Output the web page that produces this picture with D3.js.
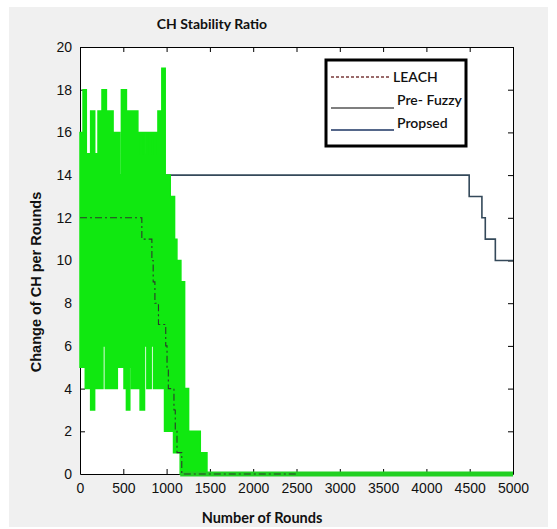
<!DOCTYPE html>
<html>
<head>
<meta charset="utf-8">
<script src="https://cdn.jsdelivr.net/npm/d3@7"></script>
<style>
    body { margin: 0; background: #fff; }
    .tick text { font-family: "Liberation Sans", Arial, sans-serif; font-size: 14px; fill: #111; }
    .tick line { stroke: #000; }
    .domain { stroke: #000; }
</style>
</head>
<body>
<svg id="chart" width="557" height="529"></svg>
<script>
// x positions where each step of a series starts, and its value from there on
var greenUpperX = [0, 35, 73, 123, 170, 208, 254, 305, 382, 459, 478, 536, 613, 668, 700, 712, 740, 752, 800, 812, 860, 872, 900, 945, 984, 1042, 1092, 1119, 1165, 1208, 1254, 1389, 1466];
var greenUpperY = [16, 18, 15, 17, 15, 17, 18, 17, 16, 14, 18, 17, 17, 16, 15, 16, 15, 16, 15, 16, 15, 16, 17, 19, 14, 13, 11, 10, 9, 4, 2, 1, 0];
var greenLowerX = [0, 61, 123, 169, 265, 292, 431, 508, 536, 575, 594, 694, 745, 772, 822, 849, 976, 1080, 1157];
var greenLowerY = [5, 4, 3, 4, 6, 4, 5, 4, 3, 5, 4, 3, 6, 4, 6, 4, 2, 1, 0];
var greenTail = [1157, 5000];

var leachX = [0, 714, 830, 845, 865, 906, 990, 1005, 1020, 1085, 1100, 1120, 1175, 2500];
var leachY = [12, 11, 10, 9, 8, 7, 6, 5, 4, 3, 2, 1, 0, 0];

var proposedX = [0, 4494, 4641, 4680, 4796, 5000];
var proposedY = [14, 13, 12, 11, 10, 10];

var xTicks = [0, 500, 1000, 1500, 2000, 2500, 3000, 3500, 4000, 4500, 5000];
var yTicks = [0, 2, 4, 6, 8, 10, 12, 14, 16, 18, 20];

var legendNames = ['LEACH', 'Pre- Fuzzy', 'Propsed'];

var titleText = 'CH Stability Ratio',
    xLabel = 'Number of Rounds',
    yLabel = 'Change of CH per Rounds';


var svg = d3.select('#chart'),
    margin = { left: 80, right: 44, top: 47, bottom: 55 },
    W = 557, H = 529,
    x = d3.scaleLinear().domain([0, 5000]).range([margin.left, W - margin.right]),
    y = d3.scaleLinear().domain([0, 20]).range([H - margin.bottom, margin.top]),
    narrow = 'Lato, "Open Sans", sans-serif',
    green = '#10e810';

// figure background
svg.append('rect')
    .attr('x', 9).attr('y', 7)
    .attr('width', 539).attr('height', 520)
    .attr('fill', '#f0f0f0');

svg.append('rect')
    .attr('x', x(0)).attr('y', y(20))
    .attr('width', x(5000) - x(0)).attr('height', y(0) - y(20))
    .attr('fill', '#fff');

// axes, MATLAB style ticks pointing inward on all sides
svg.append('g')
    .attr('transform', 'translate(0,' + y(0) + ')')
    .call(d3.axisBottom(x).tickValues(xTicks).tickFormat(d3.format('d'))
        .tickSizeInner(-5).tickSizeOuter(0).tickPadding(9));
svg.append('g')
    .attr('transform', 'translate(0,' + y(20) + ')')
    .call(d3.axisTop(x).tickValues(xTicks).tickSizeInner(-5).tickSizeOuter(0).tickFormat(''));
svg.append('g')
    .attr('transform', 'translate(' + x(0) + ',0)')
    .call(d3.axisLeft(y).tickValues(yTicks).tickSizeInner(-5).tickSizeOuter(0).tickPadding(8));
svg.append('g')
    .attr('transform', 'translate(' + x(5000) + ',0)')
    .call(d3.axisRight(y).tickValues(yTicks).tickSizeInner(-5).tickSizeOuter(0).tickFormat(''));

svg.selectAll('.tick').filter(function(d) { return d === 0; })
    .select('line').attr('opacity', 0);


// step lookup helper
function stepAt(xs, ys, v) {
    var i = d3.bisectRight(xs, v) - 1;
    return ys[Math.max(0, i)];
}

// proposed line (under the green band)
var stepLine = d3.line()
    .x(function(d) { return x(d[0]); })
    .y(function(d) { return y(d[1]); })
    .curve(d3.curveStepAfter);

svg.append('path')
    .datum(d3.zip(proposedX, proposedY))
    .attr('d', stepLine)
    .attr('fill', 'none')
    .attr('stroke', '#34495a')
    .attr('stroke-width', 1.6);

// green band: merge breakpoints of both envelopes
var bandX = d3.sort(Array.from(new Set(greenUpperX.concat(greenLowerX))), d3.ascending),
    band = bandX.map(function(v) {
        return { x: v, hi: stepAt(greenUpperX, greenUpperY, v), lo: stepAt(greenLowerX, greenLowerY, v) };
    });

svg.append('path')
    .datum(band)
    .attr('d', d3.area()
        .x(function(d) { return x(d.x); })
        .y0(function(d) { return y(d.lo); })
        .y1(function(d) { return y(d.hi); })
        .curve(d3.curveStepAfter))
    .attr('fill', green)
    .attr('stroke', green)
    .attr('stroke-width', 1.5);

svg.append('path')
    .datum(greenTail.map(function(v) { return [v, 0]; }))
    .attr('d', stepLine)
    .attr('fill', 'none')
    .attr('stroke', '#22d022')
    .attr('stroke-width', 5);

// LEACH dash-dot
svg.append('path')
    .datum(d3.zip(leachX, leachY))
    .attr('d', stepLine)
    .attr('fill', 'none')
    .attr('stroke', '#2b3a2b')
    .attr('stroke-width', 1.1)
    .attr('stroke-dasharray', '7,3,2,3');


// legend
var legend = svg.append('g').attr('transform', 'translate(326,60)');
legend.append('rect')
    .attr('width', 140).attr('height', 86)
    .attr('fill', '#fff')
    .attr('stroke', '#000')
    .attr('stroke-width', 3);

var legendLines = [
    { y1: 17, x2: 64, color: '#7a3a3a', dash: '3,2' },
    { y1: 48, x2: 68, color: '#555', dash: null },
    { y1: 70, x2: 68, color: '#1d3563', dash: null }
];
legend.selectAll('line.key').data(legendLines).enter().append('line')
    .attr('class', 'key')
    .attr('x1', 5).attr('x2', function(d) { return d.x2; })
    .attr('y1', function(d) { return d.y1; }).attr('y2', function(d) { return d.y1; })
    .attr('stroke', function(d) { return d.color; })
    .attr('stroke-width', 1.3)
    .attr('stroke-dasharray', function(d) { return d.dash; });

legend.selectAll('text').data(legendNames).enter().append('text')
    .attr('x', function(d, i) { return i === 0 ? 67 : 71; })
    .attr('y', function(d, i) { return [22, 45, 68][i]; })
    .attr('font-family', narrow)
    .attr('font-size', 14)
    .attr('font-weight', 600)
    .attr('fill', '#111')
    .text(function(d) { return d; });


// titles
svg.append('text')
    .attr('x', 212).attr('y', 29)
    .attr('text-anchor', 'middle')
    .attr('font-family', narrow)
    .attr('font-size', 14)
    .attr('font-weight', 'bold')
    .attr('fill', '#111')
    .text(titleText);

svg.append('text')
    .attr('x', 262).attr('y', 523)
    .attr('text-anchor', 'middle')
    .attr('font-family', narrow)
    .attr('font-size', 14.5)
    .attr('font-weight', 'bold')
    .attr('fill', '#111')
    .text(xLabel);

svg.append('text')
    .attr('transform', 'translate(41,' + 282 + ') rotate(-90)')
    .attr('text-anchor', 'middle')
    .attr('font-family', '"Liberation Sans", Arial, sans-serif')
    .attr('font-size', 14.5)
    .attr('font-weight', 'bold')
    .attr('fill', '#111')
    .text(yLabel);
</script>
</body>
</html>
